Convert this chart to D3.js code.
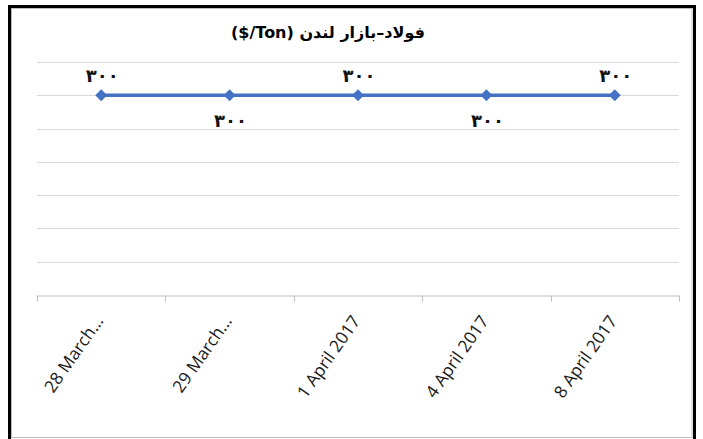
<!DOCTYPE html>
<html>
<head>
<meta charset="utf-8">
<script src="https://cdn.jsdelivr.net/npm/d3@7"></script>
<style>
  html, body { margin: 0; padding: 0; background: #fff; overflow: hidden; }
  svg { display: block; }
</style>
</head>
<body>
<svg id="vis"></svg>
<script>
// chart data
const categories = ["28 March...", "29 March...", "1 April 2017", "4 April 2017", "8 April 2017"];
const prices = [300, 300, 300, 300, 300];
const pointLabels = ["۳۰۰", "۳۰۰", "۳۰۰", "۳۰۰", "۳۰۰"];
const labelSide = ["above", "below", "above", "below", "above"];
const yTicks = [0, 50, 100, 150, 200, 250, 300, 350];
const titleText = "($/Ton) فولاد–بازار لندن";

const width = 703, height = 439;
const margins = { top: 62, right: 24, bottom: 144, left: 37 };

const svg = d3.select("#vis")
  .attr("width", width)
  .attr("height", height);

// frame
svg.append("rect")
  .attr("x", 9.5).attr("y", 6.5)
  .attr("width", 685).attr("height", 440)
  .attr("fill", "#fff")
  .attr("stroke", "#000")
  .attr("stroke-width", 3);
svg.append("rect")
  .attr("x", 11.5).attr("y", 8.5)
  .attr("width", 680.5).attr("height", 429)
  .attr("fill", "none")
  .attr("stroke", "#bdbdbd")
  .attr("stroke-width", 1);

const x = d3.scaleBand()
  .domain(categories)
  .range([margins.left, width - margins.right]);

const y = d3.scaleLinear()
  .domain([0, 350])
  .range([height - margins.bottom, margins.top]);

// gridlines
svg.append("g")
  .selectAll("line")
  .data(yTicks.filter(d => d > 0))
  .join("line")
    .attr("x1", margins.left)
    .attr("x2", width - margins.right)
    .attr("y1", d => Math.round(y(d)) + 0.5)
    .attr("y2", d => Math.round(y(d)) + 0.5)
    .attr("stroke", "#d9d9d9")
    .attr("stroke-width", 1);

// x axis
const xAxis = svg.append("g")
  .attr("transform", `translate(0, ${Math.round(y(0)) + 0.5})`)
  .call(d3.axisBottom(x).tickSize(0).tickFormat(""));
xAxis.select(".domain").attr("stroke", "#bfbfbf");

// category boundary ticks
const bounds = categories.map(c => x(c)).concat([x(categories[categories.length - 1]) + x.bandwidth()]);
xAxis.selectAll(".bound")
  .data(bounds)
  .join("line")
    .attr("class", "bound")
    .attr("x1", d => Math.round(d) + 0.5)
    .attr("x2", d => Math.round(d) + 0.5)
    .attr("y1", 0)
    .attr("y2", 6)
    .attr("stroke", "#bfbfbf");

// rotated category labels
svg.append("g")
  .selectAll("text")
  .data(categories)
  .join("text")
    .attr("transform", d => `translate(${x(d) + x.bandwidth() / 2 + 3}, ${y(0) + 26}) rotate(-55)`)
    .attr("text-anchor", "end")
    .attr("font-family", "'Open Sans', 'Liberation Sans', sans-serif")
    .attr("font-size", 17.3)
    .attr("fill", "#1a1a1a")
    .text(d => d);

// line
const cx = (d, i) => x(categories[i]) + x.bandwidth() / 2;
const line = d3.line()
  .x(cx)
  .y(d => y(d));

svg.append("path")
  .datum(prices)
  .attr("d", line)
  .attr("fill", "none")
  .attr("stroke", "#4472c4")
  .attr("stroke-width", 3.5);

// diamond markers
svg.append("g")
  .selectAll("path")
  .data(prices)
  .join("path")
    .attr("d", d3.symbol().type(d3.symbolDiamond2).size(90))
    .attr("transform", (d, i) => `translate(${cx(d, i)}, ${y(d)})`)
    .attr("fill", "#4472c4");

// data labels
svg.append("g")
  .selectAll("text")
  .data(prices)
  .join("text")
    .attr("x", (d, i) => cx(d, i) + 1)
    .attr("y", (d, i) => y(d) + (labelSide[i] === "above" ? -13 : 32))
    .attr("text-anchor", "middle")
    .attr("font-family", "'DejaVu Sans', sans-serif")
    .attr("font-weight", "bold")
    .attr("font-size", 18)
    .attr("fill", "#111")
    .text((d, i) => pointLabels[i]);

// title
svg.append("text")
  .attr("x", 328)
  .attr("y", 38)
  .attr("text-anchor", "middle")
  .attr("direction", "ltr")
  .attr("font-family", "'DejaVu Sans', sans-serif")
  .attr("font-weight", "bold")
  .attr("font-size", 16)
  .attr("fill", "#000")
  .text(titleText);
</script>
</body>
</html>
